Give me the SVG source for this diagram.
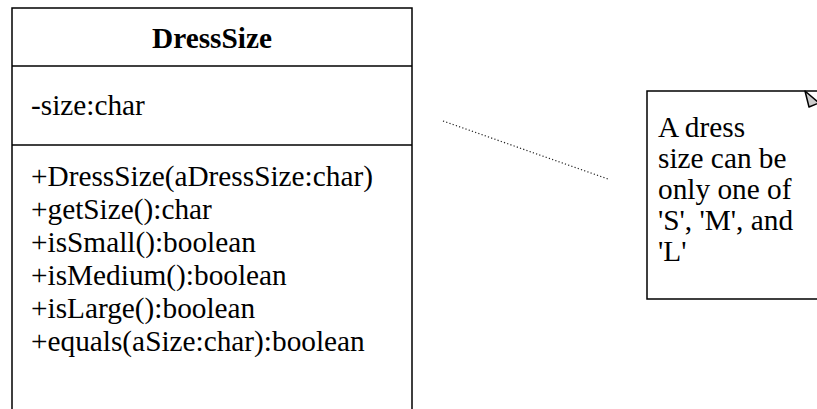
<svg xmlns="http://www.w3.org/2000/svg" width="817" height="409" viewBox="0 0 817 409">
  <style>
    .frame { fill: #ffffff; stroke: #000000; stroke-width: 1.5; }
    .rule { stroke: #000000; stroke-width: 1.5; }
    .t { font-family: "Liberation Serif", serif; font-size: 29.3px; fill: #000000; }
    .title { font-weight: bold; text-anchor: middle; }
    .dots { stroke: #222222; stroke-width: 1.2; stroke-dasharray: 1.2 2.2; fill: none; }
    .fold { fill: #cccccc; stroke: #000000; stroke-width: 1.5; stroke-linejoin: round; }
  </style>
  <rect width="817" height="409" fill="#ffffff"/>

  <!-- UML class: DressSize -->
  <g id="DressSize">
    <path class="frame" d="M12,410 V8 H412 V410"/>
    <line class="rule" x1="12" y1="66" x2="412" y2="66"/>
    <line class="rule" x1="12" y1="145" x2="412" y2="145"/>
    <text class="t title" font-family="Liberation Serif, serif" x="212" y="48">DressSize</text>
    <text class="t" font-family="Liberation Serif, serif" x="31" y="115">-size:char</text>
    <text class="t" font-family="Liberation Serif, serif" x="31" y="186">+DressSize(aDressSize:char)</text>
    <text class="t" font-family="Liberation Serif, serif" x="31" y="219">+getSize():char</text>
    <text class="t" font-family="Liberation Serif, serif" x="31" y="252">+isSmall():boolean</text>
    <text class="t" font-family="Liberation Serif, serif" x="31" y="285">+isMedium():boolean</text>
    <text class="t" font-family="Liberation Serif, serif" x="31" y="318">+isLarge():boolean</text>
    <text class="t" font-family="Liberation Serif, serif" x="31" y="351">+equals(aSize:char):boolean</text>
  </g>

  <!-- Note with folded corner -->
  <g id="note">
    <path class="frame" d="M647,91 H805 L820,91 V299 H647 Z"/>
    <path class="fold" d="M805,91 L809,107 L819,103 Z"/>
    <text class="t" font-family="Liberation Serif, serif" x="658" y="137">A dress</text>
    <text class="t" font-family="Liberation Serif, serif" x="658" y="168">size can be</text>
    <text class="t" font-family="Liberation Serif, serif" x="658" y="199">only one of</text>
    <text class="t" font-family="Liberation Serif, serif" x="658" y="230">'S', 'M', and</text>
    <text class="t" font-family="Liberation Serif, serif" x="658" y="261">'L'</text>
  </g>

  <!-- Anchor connector -->
  <g id="connectors">
    <line class="dots" x1="443" y1="121" x2="608" y2="179"/>
  </g>
</svg>
